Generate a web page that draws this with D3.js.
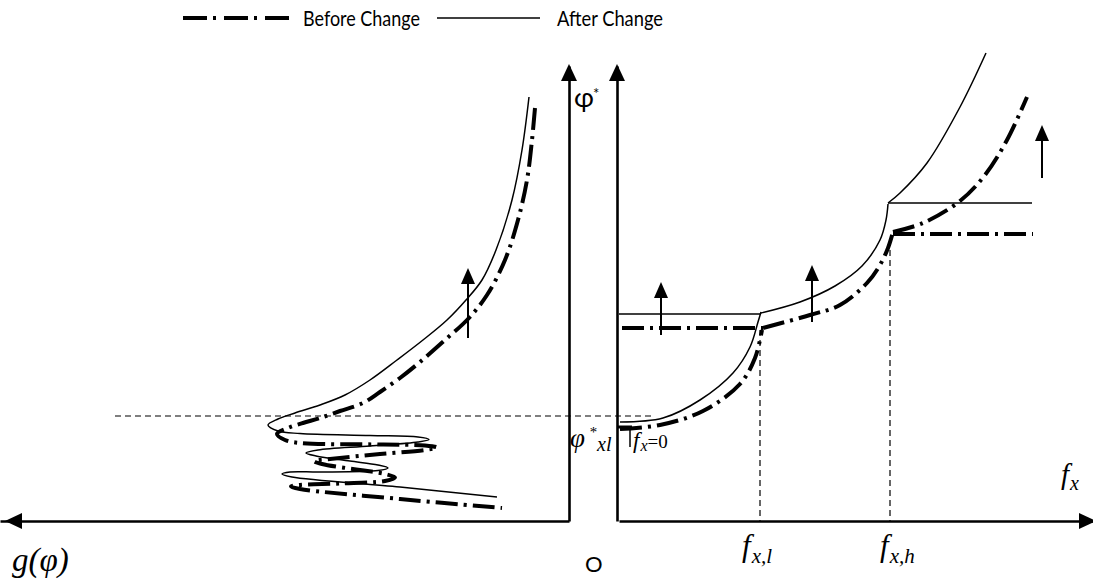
<!DOCTYPE html>
<meta charset="utf-8">
<script src="https://d3js.org/d3.v7.min.js"></script>
<style>
  body { margin: 0; background: #fff; }
  text { font-family: Lato, "Open Sans", sans-serif; fill: #000; }
  .math { font-family: "Liberation Serif", "DejaVu Serif", serif; font-style: italic; }
  .axis path { stroke: #000; stroke-width: 2.6; }
</style>
<div id="chart"></div>
<script>
// units: f_x and g(phi) grow away from the origin, phi* grows upward
// right panel (f_x, phi*) -- "after change" (solid)
var afterLow = [[1,99],[44,103],[81,121],[114,148],[131,174],[139,199],[142,209]];
var afterFlatLow = [[0,207],[142,207]];
var afterMid = [[142,208],[181,219],[216,235],[243,255],[261,281],[267,301],[269,317]];
var afterFlatHigh = [[269,318],[413,318]];
var afterUpper = [[269,318],[281,328],[308,358],[341,414],[367,468]];

// right panel -- "before change" (dash-dot)
var beforeLow = [[1,92],[41,96],[84,110],[121,137],[136,163],[143,191]];
var beforeFlatLow = [[3,193],[144,193]];
var beforeMid = [[144,193],[191,206],[221,216],[248,238],[261,256],[269,273],[274,289]];
var beforeFlatHigh = [[274,287],[414,287]];
var beforeUpper = [[274,289],[304,298],[341,320],[366,346],[388,381],[408,424]];

// left panel (g(phi), phi*)
var afterLeft = [[40,424],[47,371],[57,321],[73,271],[87,241],[103,221],[122,201],[146,181],
  [172,161],[199,141],[224,126],[249,116],[274,108],[291,102],[301,96],[291,90],[269,87.5],[199,85.5],
  [151,84],[140,81.5],[151,79],[199,75],[251,71],[263,68],[253,65],[219,60],[191,56],[181,53],
  [191,50.5],[249,49],[279,49],[287,47],[277,44],[169,34],[72,24]];
var beforeLeft = [[34,413],[37,381],[42,341],[51,301],[64,261],[82,226],[101,202],[124,181],
  [149,159],[169,143],[189,129],[206,118],[229,110],[249,103],[266,98],[281,93],[292,87],[284,81],
  [269,78],[189,76.5],[144,75.5],[132,73.5],[144,71],[189,67],[239,62],[255,60],[247,57],[209,51],
  [184,47],[174,43.5],[184,40],[229,37.5],[269,36],[278,34.5],[269,32],[169,22],[67,13]];

// shift arrows: [position, from phi, to phi]
var rightArrows = [[42,186,239],[193,199,256],[423,343,396]];
var leftArrows = [[101,183,253]];

// reference levels
var phiXl = 105;
var fxL = 141, fxH = 271;

var width = 1093, height = 582;

var svg = d3.select("#chart")
  .append("svg")
    .attr("width", width)
    .attr("height", height);

var y = d3.scaleLinear().domain([0, 455]).range([521, 66]);
var xR = d3.scaleLinear().domain([0, 474]).range([619, 1093]);
var xL = d3.scaleLinear().domain([0, 569]).range([569, 0]);

// axes without ticks
svg.append("g").attr("class", "axis")
  .attr("transform", "translate(0," + y(0) + ")")
  .call(d3.axisBottom(xR).tickValues([]).tickSizeOuter(0));
svg.append("g").attr("class", "axis")
  .attr("transform", "translate(0," + y(0) + ")")
  .call(d3.axisBottom(xL.copy().domain([0, 557])).tickValues([]).tickSizeOuter(0));
svg.append("g").attr("class", "axis")
  .attr("transform", "translate(" + xR(-2) + ",0)")
  .call(d3.axisLeft(y).tickValues([]).tickSizeOuter(0));
svg.append("g").attr("class", "axis")
  .attr("transform", "translate(" + xL(0) + ",0)")
  .call(d3.axisLeft(y).tickValues([]).tickSizeOuter(0));

// axis arrow heads
function head(cx, cy, dir) {
  var l = 17, w = 8, p;
  if (dir == "up") p = [[cx, cy], [cx - w, cy + l], [cx + w, cy + l]];
  if (dir == "left") p = [[cx, cy], [cx + l, cy - w], [cx + l, cy + w]];
  if (dir == "right") p = [[cx, cy], [cx - l, cy - w], [cx - l, cy + w]];
  svg.append("path").attr("d", "M" + p.join("L") + "Z").attr("fill", "#000");
}
head(xL(0), y(457), "up");
head(xR(-2), y(457), "up");
head(xL(564), y(0), "left");
head(xR(477), y(0), "right");

// dashed guides
var guide = svg.append("g").attr("stroke", "#000").attr("stroke-width", 1.2)
  .attr("stroke-dasharray", "6,4").attr("fill", "none");
guide.append("line").attr("x1", xL(454)).attr("x2", xR(36))
  .attr("y1", y(phiXl)).attr("y2", y(phiXl));
guide.append("line").attr("x1", xR(fxL)).attr("x2", xR(fxL))
  .attr("y1", y(191)).attr("y2", y(0));
guide.append("line").attr("x1", xR(fxH)).attr("x2", xR(fxH))
  .attr("y1", y(281)).attr("y2", y(0));

var lineR = d3.line().x(function(d) { return xR(d[0]); }).y(function(d) { return y(d[1]); })
  .curve(d3.curveCatmullRom.alpha(0.5));
var lineL = d3.line().x(function(d) { return xL(d[0]); }).y(function(d) { return y(d[1]); })
  .curve(d3.curveCatmullRom.alpha(0.5));

function solid(d, gen) {
  svg.append("path").attr("d", gen(d)).attr("fill", "none")
    .attr("stroke", "#000").attr("stroke-width", 1.5);
}
function dashdot(d, gen) {
  svg.append("path").attr("d", gen(d)).attr("fill", "none")
    .attr("stroke", "#000").attr("stroke-width", 4)
    .attr("stroke-dasharray", "22,6,3,6");
}

[afterLow, afterFlatLow, afterMid, afterFlatHigh, afterUpper].forEach(function(d) { solid(d, lineR); });
[beforeLow, beforeFlatLow, beforeMid, beforeFlatHigh, beforeUpper].forEach(function(d) { dashdot(d, lineR); });
solid(afterLeft, lineL);
dashdot(beforeLeft, lineL);

// f_x = 0 marker
svg.append("path")
  .attr("d", "M" + xR(-2) + "," + y(94) + "H" + xR(13))
  .attr("stroke", "#000").attr("stroke-width", 3);
svg.append("path")
  .attr("d", "M" + xR(11) + "," + y(94) + "V" + y(74))
  .attr("stroke", "#000").attr("stroke-width", 1.5);

// shift arrows
function upArrow(px, y0, y1) {
  svg.append("line").attr("x1", px).attr("x2", px).attr("y1", y(y0)).attr("y2", y(y1) + 10)
    .attr("stroke", "#000").attr("stroke-width", 2);
  var t = y(y1);
  svg.append("path").attr("d", "M" + px + "," + t + "L" + (px - 7) + "," + (t + 16) + "L" + (px + 7) + "," + (t + 16) + "Z")
    .attr("fill", "#000");
}
rightArrows.forEach(function(a) { upArrow(xR(a[0]), a[1], a[2]); });
leftArrows.forEach(function(a) { upArrow(xL(a[0]), a[1], a[2]); });

// legend
var leg = svg.append("g");
leg.append("line").attr("x1", 183).attr("x2", 290).attr("y1", 18).attr("y2", 18)
  .attr("stroke", "#000").attr("stroke-width", 4).attr("stroke-dasharray", "24,6,3,8");
leg.append("text").attr("x", 303).attr("y", 26).attr("font-size", 21)
  .attr("textLength", 117).attr("lengthAdjust", "spacingAndGlyphs").text("Before Change");
leg.append("line").attr("x1", 437).attr("x2", 540).attr("y1", 18).attr("y2", 18)
  .attr("stroke", "#000").attr("stroke-width", 1.5);
leg.append("text").attr("x", 557).attr("y", 26).attr("font-size", 21)
  .attr("textLength", 106).attr("lengthAdjust", "spacingAndGlyphs").text("After Change");

// labels
svg.append("text").attr("class", "math").attr("x", 12).attr("y", 571).attr("font-size", 33)
  .text("g(φ)");
svg.append("text").attr("x", xR(-34)).attr("y", 572).attr("font-size", 22).text("O");

function fLabel(x0, y0, sub, big, small) {
  var t = svg.append("text").attr("class", "math").attr("x", x0).attr("y", y0).attr("font-size", big);
  t.append("tspan").text("f");
  t.append("tspan").attr("font-size", small).attr("dy", big * 0.22).attr("dx", 1).text(sub);
  return t;
}
fLabel(xR(fxL) - 18, 556, "x,l", 31, 21);
fLabel(xR(fxH) - 10, 556, "x,h", 31, 21);
fLabel(1061, 484, "x", 29, 20);

// phi* axis label: symbol and star side by side
svg.append("text").attr("x", 574).attr("y", 107).attr("font-size", 27)
  .attr("font-family", "'Liberation Serif', serif").text("φ");
svg.append("text").attr("x", 593).attr("y", 99).attr("font-size", 15)
  .attr("font-family", "'Liberation Serif', serif").text("*");

// phi*_xl
svg.append("text").attr("class", "math").attr("x", 570).attr("y", 447).attr("font-size", 27).text("φ");
svg.append("text").attr("class", "math").attr("x", 589).attr("y", 437).attr("font-size", 15).text("*");
svg.append("text").attr("class", "math").attr("x", 597).attr("y", 451).attr("font-size", 20).text("xl");

var f0 = svg.append("text").attr("class", "math").attr("x", 633).attr("y", 448).attr("font-size", 23);
f0.append("tspan").text("f");
f0.append("tspan").attr("font-size", 16).attr("dy", 3).attr("dx", 1).text("x");
f0.append("tspan").attr("font-size", 19).attr("dy", -3).attr("font-style", "normal").text("=0");
</script>
